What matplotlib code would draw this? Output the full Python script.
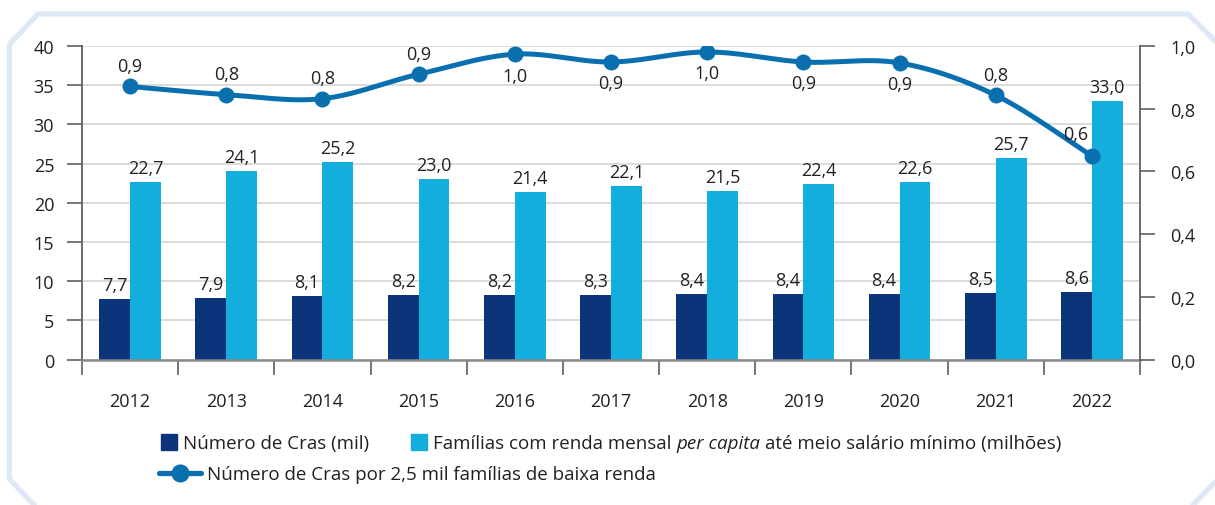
import numpy as np
import matplotlib
matplotlib.use("Agg")
import matplotlib.pyplot as plt
from matplotlib.patches import Polygon, Rectangle
from matplotlib.lines import Line2D

plt.rcParams['font.family'] = ['Open Sans', 'DejaVu Sans']

# ---- data ----
years = ["2012", "2013", "2014", "2015", "2016", "2017",
         "2018", "2019", "2020", "2021", "2022"]
cras_mil = [7.7, 7.9, 8.1, 8.2, 8.2, 8.3, 8.4, 8.4, 8.4, 8.5, 8.6]
familias_milhoes = [22.7, 24.1, 25.2, 23.0, 21.4, 22.1, 21.5, 22.4, 22.6, 25.7, 33.0]
cras_por_2500 = [0.871, 0.845, 0.832, 0.910, 0.974, 0.949, 0.981, 0.949, 0.946, 0.843, 0.649]
left_ticks = [0, 5, 10, 15, 20, 25, 30, 35, 40]
right_ticks = [0.0, 0.2, 0.4, 0.6, 0.8, 1.0]

# ---- style ----
W, H = 1215, 506
NAVY = "#0b347a"
CYAN = "#13aedd"
LINE = "#0a6fae"
TXT = "#231f20"
GRID = "#d9d9d9"
AXIS = "#5f5f5f"
FRAME = "#dde9f6"
FS = 13
FS_LEG = 13.5


def br(v):
    return f"{v:.1f}".replace(".", ",")


def smooth_path(xs, ys, n=40):
    """Catmull-Rom style Bezier curve through the points."""
    pts = np.column_stack([xs, ys]).astype(float)
    P = np.vstack([pts[0], pts, pts[-1]])
    out = []
    t = np.linspace(0, 1, n)[:, None]
    for i in range(1, len(P) - 2):
        p0, p1, p2, p3 = P[i - 1], P[i], P[i + 1], P[i + 2]
        c1 = p1 + (p2 - p0) / 6
        c2 = p2 - (p3 - p1) / 6
        seg = ((1 - t) ** 3) * p1 + 3 * ((1 - t) ** 2) * t * c1 \
            + 3 * (1 - t) * t ** 2 * c2 + t ** 3 * p2
        out.append(seg if i == 1 else seg[1:])
    s = np.vstack(out)
    return s[:, 0], s[:, 1]


fig = plt.figure(figsize=(W / 100, H / 100), dpi=100)


def fx(px):
    return px / W


def fy(py):
    return 1 - py / H


# decorative frame with cut corners
frame_pts = [(9.5, 45), (38, 15), (1188, 15), (1218, 45), (1218, 480),
             (1191, 508), (36, 508), (9.5, 480)]
fig.patches.append(Polygon([(fx(a), fy(b)) for a, b in frame_pts], closed=True,
                           fill=False, edgecolor=FRAME, lw=3.8,
                           transform=fig.transFigure, clip_on=False))

ax = fig.add_axes([fx(82), fy(360.7), fx(1140) - fx(82), fy(47) - fy(360.7)])
ax2 = ax.twinx()

x = np.arange(len(years))
bw = 0.32
ax.bar(x - bw / 2, cras_mil, width=bw, color=NAVY, zorder=2)
ax.bar(x + bw / 2, familias_milhoes, width=bw, color=CYAN, zorder=2)

for xi, v in zip(x, cras_mil):
    ax.annotate(br(v), (xi - bw / 2, v), xytext=(0, 6.5), textcoords="offset points",
                ha="center", va="baseline", fontsize=FS, color=TXT)
for xi, v in zip(x, familias_milhoes):
    ax.annotate(br(v), (xi + bw / 2, v), xytext=(0, 6.5), textcoords="offset points",
                ha="center", va="baseline", fontsize=FS, color=TXT)

ax.set_xlim(-0.5, len(years) - 0.5)
ax.set_ylim(0, 40)
ax.set_yticks(left_ticks)
ax.set_yticklabels([str(t) for t in left_ticks])
ax.yaxis.grid(True, color=GRID, lw=1.3)
ax.set_axisbelow(True)

ax.set_xticks(x)
ax.set_xticklabels(years)
ax.set_xticks(np.arange(-0.5, len(years), 1.0), minor=True)
ax.tick_params(axis="x", which="major", length=0, pad=23, labelsize=FS, labelcolor=TXT)
ax.tick_params(axis="x", which="minor", direction="out", length=11, width=1.2, color=AXIS)
ax.tick_params(axis="y", direction="out", length=11, width=1.2, color=AXIS,
               pad=9, labelsize=FS, labelcolor=TXT)

for s in ("top", "right"):
    ax.spines[s].set_visible(False)
ax.spines["left"].set_color(AXIS)
ax.spines["left"].set_linewidth(1.3)
ax.spines["bottom"].set_color("#8a8a8a")
ax.spines["bottom"].set_linewidth(1.8)

# line on the right axis
sx, sy = smooth_path(x, cras_por_2500)
ax2.plot(sx, sy, color=LINE, lw=3.6, solid_capstyle="round", zorder=3)
ax2.plot(x, cras_por_2500, "o", color=LINE, ms=10.5, zorder=4)
ax2.set_ylim(0, 1)
ax2.set_yticks(right_ticks)
ax2.set_yticklabels([br(t) for t in right_ticks])
ax2.tick_params(axis="y", direction="out", length=11, width=1.2, color=AXIS,
                pad=11, labelsize=FS, labelcolor=TXT)
for s in ("top", "left", "bottom"):
    ax2.spines[s].set_visible(False)
ax2.spines["right"].set_color(AXIS)
ax2.spines["right"].set_linewidth(1.3)

# value labels of the line (offsets in points)
line_offsets = [(0, 11), (0, 11), (0, 11), (0, 11), (0, -19), (0, -19),
                (0, -19), (0, -19), (0, -19), (0, 11), (-12, 12)]
for xi, v, (dx, dy) in zip(x, cras_por_2500, line_offsets):
    ax2.annotate(br(v), (xi, v), xytext=(dx, dy), textcoords="offset points",
                 ha="center", va="baseline", fontsize=FS, color=TXT, zorder=5)

# ---- legend ----
fig.patches.append(Rectangle((fx(161), fy(451)), fx(16), 16 / H, color=NAVY,
                             transform=fig.transFigure))
fig.text(fx(183), fy(449.5), "Número de Cras (mil)", fontsize=FS_LEG, color=TXT,
         ha="left", va="baseline")
fig.patches.append(Rectangle((fx(411), fy(451)), fx(16), 16 / H, color=CYAN,
                             transform=fig.transFigure))

fig.canvas.draw()
renderer = fig.canvas.get_renderer()


def width_px(s, **kw):
    t = fig.text(0, 0, s, fontsize=FS_LEG, **kw)
    w = t.get_window_extent(renderer).width
    t.remove()
    return w


space = width_px("a a") - width_px("aa")
parts = [("Famílias com renda mensal", "normal"),
         ("per capita", "italic"),
         ("até meio salário mínimo (milhões)", "normal")]
cur = 433
for txt, st in parts:
    t = fig.text(fx(cur), fy(449.5), txt, fontsize=FS_LEG, color=TXT, style=st,
                 ha="left", va="baseline")
    cur += t.get_window_extent(renderer).width + space

fig.lines.append(Line2D([fx(159), fx(201)], [fy(474), fy(474)], color=LINE, lw=3.8,
                        transform=fig.transFigure, solid_capstyle="round"))
fig.lines.append(Line2D([fx(180)], [fy(474)], marker="o", ms=12, color=LINE,
                        transform=fig.transFigure))
fig.text(fx(207), fy(480.5), "Número de Cras por 2,5 mil famílias de baixa renda",
         fontsize=FS_LEG, color=TXT, ha="left", va="baseline")

fig.savefig("out.png", dpi=100)
